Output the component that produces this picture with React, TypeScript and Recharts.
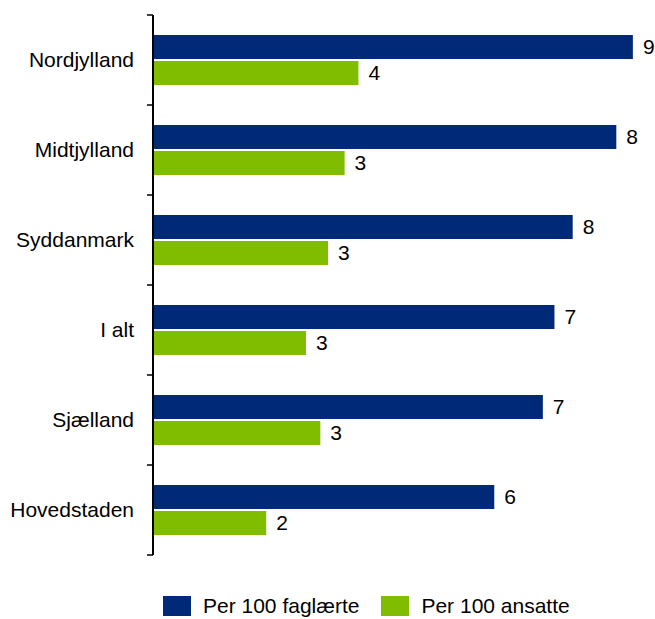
import React from "react";
import { Bar, BarChart, LabelList, Legend, XAxis, YAxis } from "recharts";

const regions = ["Nordjylland", "Midtjylland", "Syddanmark", "I alt", "Sjælland", "Hovedstaden"];
const perFaglaerte = [8.69, 8.39, 7.6, 7.27, 7.06, 6.18];
const perAnsatte = [3.72, 3.47, 3.17, 2.77, 3.03, 2.05];

const seriesNames = ["Per 100 faglærte", "Per 100 ansatte"];
const NAVY = "#002A78";
const GREEN = "#80BC00";
const FONT = "'Liberation Sans', Arial, sans-serif";
const FS = 21;

const data = regions.map((region, i) => ({
  region,
  faglaerte: perFaglaerte[i],
  ansatte: perAnsatte[i],
}));

// category label plus Excel-style tick marks on the band edges
function RegionTick(props: any) {
  const { x, y, payload, index, visibleTicksCount } = props;
  const half = payload?.offset ?? 0;
  const lx1 = x + 13;
  const lx2 = x + 19;
  return (
    <g>
      <line x1={lx1} x2={lx2} y1={y - half} y2={y - half} stroke="#000" strokeWidth={1.5} />
      {index === visibleTicksCount - 1 && (
        <line x1={lx1} x2={lx2} y1={y + half} y2={y + half} stroke="#000" strokeWidth={1.5} />
      )}
      <text x={x} y={y} dy="0.35em" textAnchor="end" fontSize={FS} fill="#000" fontFamily={FONT}>
        {payload.value}
      </text>
    </g>
  );
}

function ChartLegend() {
  const colors = [NAVY, GREEN];
  return (
    <div style={{ display: "flex", alignItems: "center", height: 20, fontFamily: FONT, fontSize: FS }}>
      {seriesNames.map((name, i) => (
        <div key={name} style={{ display: "flex", alignItems: "center", marginRight: 22 }}>
          <span style={{ width: 28, height: 20, background: colors[i], display: "inline-block", marginRight: 12 }} />
          <span style={{ lineHeight: "20px", color: "#000" }}>{name}</span>
        </div>
      ))}
    </div>
  );
}

export default function App() {
  return (
    <div style={{ position: "absolute", left: 0, top: 0, background: "#fff" }}>
      <BarChart
        width={655}
        height={619}
        data={data}
        layout="vertical"
        margin={{ top: 15, right: 5, bottom: 44, left: 0 }}
        barSize={24}
        barGap={2}
      >
        <XAxis type="number" domain={[0, 9]} hide />
        <YAxis
          type="category"
          dataKey="region"
          width={153}
          axisLine={{ stroke: "#000", strokeWidth: 2 }}
          tickLine={false}
          tickSize={6}
          tickMargin={13}
          tick={<RegionTick />}
          interval={0}
        />
        <Legend
          verticalAlign="bottom"
          align="left"
          content={<ChartLegend />}
          wrapperStyle={{ left: 163, bottom: 3, width: "auto" }}
        />
        <Bar dataKey="faglaerte" name={seriesNames[0]} fill={NAVY} isAnimationActive={false}>
          <LabelList
            dataKey="faglaerte"
            position="right"
            offset={10}
            formatter={(v: any) => Math.round(Number(v))}
            style={{ fontSize: FS, fill: "#000", fontFamily: FONT }}
          />
        </Bar>
        <Bar dataKey="ansatte" name={seriesNames[1]} fill={GREEN} isAnimationActive={false}>
          <LabelList
            dataKey="ansatte"
            position="right"
            offset={10}
            formatter={(v: any) => Math.round(Number(v))}
            style={{ fontSize: FS, fill: "#000", fontFamily: FONT }}
          />
        </Bar>
      </BarChart>
    </div>
  );
}
